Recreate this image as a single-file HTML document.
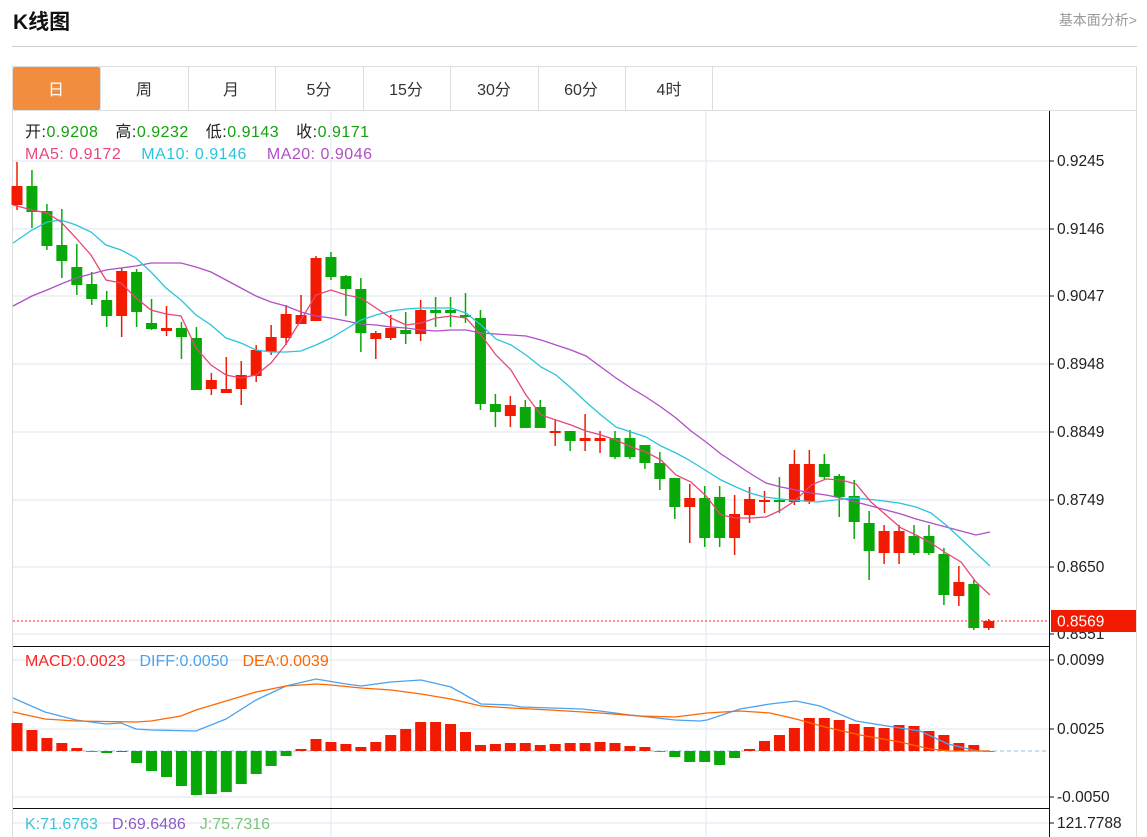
<!DOCTYPE html>
<html><head><meta charset="utf-8"><style>
html,body{margin:0;padding:0;background:#fff;}
body{width:1147px;height:837px;position:relative;overflow:hidden;font-family:"Liberation Sans","Noto Sans CJK SC",sans-serif;}
.t{position:absolute;white-space:nowrap;}
</style></head><body>
<div class="t" style="left:13px;top:6px;font-size:21px;font-weight:bold;color:#111;">K线图</div>
<div class="t" style="right:10px;top:10px;font-size:14px;color:#999;">基本面分析&gt;</div>
<div style="position:absolute;left:12px;top:46px;width:1125px;height:1px;background:#ccc;"></div>
<svg width="1147" height="837" style="position:absolute;left:0;top:0" xmlns="http://www.w3.org/2000/svg" font-family="Liberation Sans, Noto Sans CJK SC, sans-serif">
<rect x="12.5" y="66.5" width="1124" height="780" fill="none" stroke="#ddd"/>
<rect x="13" y="67" width="87" height="43" fill="#f28d3f" rx="2"/>
<g stroke="#ddd"><line x1="12" y1="110.5" x2="1136" y2="110.5"/>
<line x1="100.5" y1="66" x2="100.5" y2="110"/><line x1="188.5" y1="66" x2="188.5" y2="110"/><line x1="275.5" y1="66" x2="275.5" y2="110"/><line x1="363.5" y1="66" x2="363.5" y2="110"/><line x1="450.5" y1="66" x2="450.5" y2="110"/><line x1="538.5" y1="66" x2="538.5" y2="110"/><line x1="625.5" y1="66" x2="625.5" y2="110"/><line x1="712.5" y1="66" x2="712.5" y2="110"/></g>
<g font-size="16" text-anchor="middle" fill="#333"><text x="56" y="95" fill="#fff">日</text><text x="144" y="95">周</text><text x="231" y="95">月</text><text x="319" y="95">5分</text><text x="406" y="95">15分</text><text x="494" y="95">30分</text><text x="581" y="95">60分</text><text x="669" y="95">4时</text></g>
<g stroke="#e3ebf2" stroke-width="1.2">
<line x1="13" y1="161" x2="1049" y2="161"/><line x1="13" y1="229" x2="1049" y2="229"/><line x1="13" y1="296" x2="1049" y2="296"/><line x1="13" y1="364" x2="1049" y2="364"/><line x1="13" y1="432" x2="1049" y2="432"/><line x1="13" y1="500" x2="1049" y2="500"/><line x1="13" y1="567" x2="1049" y2="567"/><line x1="13" y1="634" x2="1049" y2="634"/>
<line x1="13" y1="660" x2="1049" y2="660"/><line x1="13" y1="729" x2="1049" y2="729"/><line x1="13" y1="797" x2="1049" y2="797"/><line x1="13" y1="823" x2="1049" y2="823"/>
<line x1="331" y1="111" x2="331" y2="837"/><line x1="706" y1="111" x2="706" y2="837"/>
</g>
<line x1="13" y1="751" x2="1049" y2="751" stroke="#8cc4e0" stroke-dasharray="4,3"/>
<g id="c"></g>
<line x1="13" y1="621" x2="1049" y2="621" stroke="#f22" stroke-dasharray="2,2"/>
<g stroke="#111"><line x1="13" y1="646.5" x2="1049" y2="646.5"/><line x1="13" y1="808.5" x2="1049" y2="808.5"/><line x1="1049.5" y1="111" x2="1049.5" y2="837"/>
<line x1="1049" y1="161" x2="1054" y2="161"/><line x1="1049" y1="229" x2="1054" y2="229"/><line x1="1049" y1="296" x2="1054" y2="296"/><line x1="1049" y1="364" x2="1054" y2="364"/><line x1="1049" y1="432" x2="1054" y2="432"/><line x1="1049" y1="500" x2="1054" y2="500"/><line x1="1049" y1="567" x2="1054" y2="567"/><line x1="1049" y1="634" x2="1054" y2="634"/><line x1="1049" y1="660" x2="1054" y2="660"/><line x1="1049" y1="729" x2="1054" y2="729"/><line x1="1049" y1="797" x2="1054" y2="797"/><line x1="1049" y1="823" x2="1054" y2="823"/></g>
<g font-size="15.5" fill="#222"><text x="1057" y="166">0.9245</text><text x="1057" y="234">0.9146</text><text x="1057" y="301">0.9047</text><text x="1057" y="369">0.8948</text><text x="1057" y="437">0.8849</text><text x="1057" y="505">0.8749</text><text x="1057" y="572">0.8650</text><text x="1057" y="639">0.8551</text><text x="1057" y="665">0.0099</text><text x="1057" y="734">0.0025</text><text x="1057" y="802">-0.0050</text><text x="1057" y="828">121.7788</text></g>
<rect x="1051" y="610" width="85" height="22" fill="#f21a00"/><text x="1057" y="626.5" font-size="15.5" fill="#fff">0.8569</text>
<g font-size="16" letter-spacing="0.5"><text x="25" y="137"><tspan fill="#222">开:</tspan><tspan fill="#13a10e">0.9208</tspan><tspan fill="#222" dx="17">高:</tspan><tspan fill="#13a10e">0.9232</tspan><tspan fill="#222" dx="17">低:</tspan><tspan fill="#13a10e">0.9143</tspan><tspan fill="#222" dx="17">收:</tspan><tspan fill="#13a10e">0.9171</tspan></text>
<text x="25" y="159"><tspan fill="#e8457a">MA5: 0.9172</tspan><tspan fill="#2ac4dd" dx="20">MA10: 0.9146</tspan><tspan fill="#b04fc5" dx="20">MA20: 0.9046</tspan></text></g>
<g font-size="16"><text x="25" y="666"><tspan fill="#f22">MACD:0.0023</tspan><tspan fill="#4aa3f0" dx="14">DIFF:0.0050</tspan><tspan fill="#f60" dx="14">DEA:0.0039</tspan></text>
<text x="25" y="829"><tspan fill="#3cc4dc">K:71.6763</tspan><tspan fill="#8a5cc9" dx="14">D:69.6486</tspan><tspan fill="#7cc47c" dx="14">J:75.7316</tspan></text></g>
</svg>
<script>
var C=[
"r186,205,162,210","g186,212,170,228","g211,246,204,250","g245,261,209,278","g267,285,244,295","g284,299,272,305","g300,316,291,327","r271,316,268,337","g272,312,269,327","g323,329,299,330",
"r328,331,306,336","g328,337,322,359","g338,390,327,390","r380,389,373,395","r389,393,357,393","r375,389,361,405","r350,376,345,382","r337,352,325,355","r314,338,305,345","r315,324,295,324",
"r258,321,256,321","g257,277,252,280","g276,289,275,316","g289,333,278,352","r333,339,331,359","r328,338,315,340","g330,334,312,344","r310,334,300,341","g310,313,297,327","g310,313,297,327",
"g315,317,293,323","g318,404,310,410","g404,412,394,427","r405,416,396,427","g407,428,400,428","g407,428,400,428","r431,433,420,446","g431,441,431,451","r438,441,414,451","r438,441,431,453",
"g438,457,431,459","g438,457,430,459","g445,463,445,469","g463,479,452,490","g478,507,478,519","r498,507,484,543","g498,538,486,547","g497,538,486,547","r514,538,495,555","r499,515,487,523",
"r500,502,491,513","g500,502,477,513","r464,502,450,505","r464,501,450,504","g464,477,454,479","g476,497,474,517","g496,522,480,539","g523,551,511,580","r531,553,525,564","r531,553,525,564",
"g536,553,525,555","g536,553,525,555","g554,595,548,605","r582,596,566,606","g584,628,580,630","r621,628,619,630"];
var M=[723,730,738,743,748,751,753,752,763,771,777,786,795,794,792,784,774,766,756,749,739,742,744,747,742,735,729,722,722,724,732,745,744,743,
743,745,744,743,743,742,743,746,747,751,757,762,762,765,758,749,741,735,728,718,718,720,724,727,728,725,726,731,735,743,745,751];
var s='',X=function(i){return 17+14.95*i;};
var RED='#f21a00',GRN='#08a808';
for(var i=0;i<M.length;i++){var x=X(i),y=M[i],col=y<751?RED:GRN,t=Math.min(y,751),h=Math.abs(y-751);if(h<0.5)h=0.8;s+='<rect x="'+(x-5.5)+'" y="'+t+'" width="11" height="'+h+'" fill="'+col+'"/>';}
for(var i=0;i<C.length;i++){var c=C[i],col=c[0]=='r'?RED:GRN,v=c.slice(1).split(',').map(Number),x=X(i);var bh=Math.max(v[1]-v[0],1.5);
s+='<line x1="'+x+'" y1="'+v[2]+'" x2="'+x+'" y2="'+v[3]+'" stroke="'+col+'" stroke-width="1.5"/>';s+='<rect x="'+(x-5.5)+'" y="'+v[0]+'" width="11" height="'+bh+'" fill="'+col+'"/>';}
function pl(p,c){s+='<polyline fill="none" stroke="'+c+'" stroke-width="1.3" points="'+p+'"/>';}
pl("13,306 32,296 47,290 61,284 76,278 91,274 106,270 121,268 136,266 151,263 166,263 181,263 196,267 211,272 226,280 241,288 256,296 271,302 286,306 301,312 316,316 331,318 346,321 361,324 376,325 391,327 406,328 421,330 436,331 451,330 466,330 481,333 496,334 511,335 526,336 541,340 556,345 571,350 586,356 601,367 616,378 631,388 646,397 661,407 676,418 691,431 706,442 721,454 736,464 751,474 766,483 781,487 796,490 811,493 826,495 841,498 856,502 871,506 886,510 901,514 916,519 931,523 946,527 961,531 976,535 990,532","#b04fc5");
pl("13,243 32,230 47,222 61,220 76,225 91,232 106,245 121,250 136,258 151,272 166,288 181,300 196,315 211,325 226,338 241,343 256,350 271,352 286,352 301,351 316,345 331,338 346,329 361,320 376,315 391,311 406,309 421,308 436,308 451,308 466,313 481,325 496,339 511,345 526,355 541,367 556,375 571,388 586,402 601,415 616,427 631,432 646,437 661,446 676,453 689,460 705,470 721,480 736,487 750,493 764,497 790,500 817,502 835,500 853,498 876,500 899,503 916,507 931,513 946,525 960,538 976,553 990,566","#2ac4dd");
pl("13,205 32,210 47,213 61,222 76,238 91,255 106,280 121,283 136,298 151,310 166,314 181,316 196,348 211,365 226,375 241,378 256,375 271,363 286,344 301,320 316,295 331,290 346,295 361,298 376,308 391,318 406,325 421,323 436,318 451,316 466,318 481,335 496,355 511,370 526,395 541,415 556,420 571,425 586,431 601,435 616,440 631,447 646,452 661,460 676,475 691,482 706,496 721,515 736,518 751,518 766,517 781,510 796,500 811,485 826,479 841,480 856,484 871,502 886,515 901,528 916,535 931,543 946,553 961,562 976,582 990,595","#e8457a");
pl("13,698 45,712 76,720 106,724 121,723 136,729 151,730 196,731 226,719 256,700 286,686 316,679 346,684 361,686 391,682 421,680 451,687 481,704 511,705 521,707 582,709 600,711 630,715 675,720 700,721 707,720 740,709 770,704 796,701 820,706 856,721 881,725 900,728 920,731 948,744 977,751 990,751","#4aa3f0");
pl("13,712 45,719 76,721 136,722 151,721 181,716 196,710 226,701 256,692 286,686 301,685 316,684 331,685 361,688 391,690 421,694 451,699 481,706 511,708 550,710 600,713 640,716 675,717 707,713 740,711 770,713 796,719 825,727 860,735 900,742 930,749 950,751 990,751","#f60");
document.getElementById('c').innerHTML=s;
</script>
</body></html>
